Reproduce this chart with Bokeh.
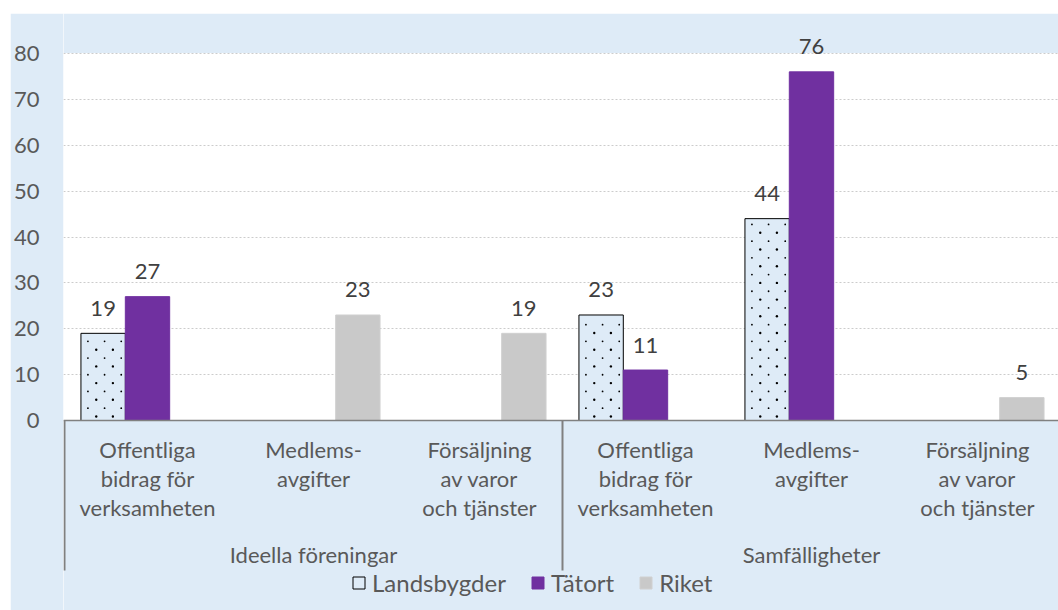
from bokeh.plotting import figure
from bokeh.models import (ColumnDataSource, Range1d, FixedTicker, Span, BoxAnnotation,
                          Legend, LegendItem, Spacer)
from bokeh.layouts import column, row
from bokeh.core.properties import value
from bokeh.embed import file_html
from bokeh.resources import INLINE

# ---------------- data ----------------
groups = ["Ideella föreningar", "Samfälligheter"]
subcategories = ["Offentliga\nbidrag för\nverksamheten", "Medlems-\navgifter",
                 "Försäljning\nav varor\noch tjänster"]
series_names = ["Landsbygder", "Tätort", "Riket"]
landsbygder = [19, None, None, 23, 44, None]
tatort = [27, None, None, 11, 76, None]
riket = [None, 23, 19, None, None, 5]
y_ticks = [0, 10, 20, 30, 40, 50, 60, 70, 80]

# ---------------- layout / style ----------------
BG = "#DEEBF7"
TXT = "#595959"
LBL = "#404040"
AX = "#808080"
FONT = "Lato"
FS = "22px"
FIG_W, FIG_H = 1048, 597
MIN_LEFT = 50
PX_PER_CAT = 166.5
PX_PER_UNIT = 367 / 80.0
TOP_GAP = 40          # px between figure top and the 80 gridline
Y_MAX = 80
BAR_PX = 44.5
DOT_DX, DOT_DY = 16.7, 8.35   # dotted fill pattern spacing (px)

def px(v):
    return v / PX_PER_UNIT

x_start = -1.0 / PX_PER_CAT
x_end = x_start + (FIG_W - MIN_LEFT) / PX_PER_CAT
y_end = Y_MAX + px(TOP_GAP)
y_start = y_end - px(FIG_H)
BAR_W = BAR_PX / PX_PER_CAT

n_sub = len(subcategories)
categories = [(g, s) for g in groups for s in subcategories]
centers = [i + 0.5 for i in range(len(categories))]

p = figure(width=FIG_W, height=FIG_H, output_backend="svg", toolbar_location=None,
           x_range=Range1d(x_start, x_end), y_range=Range1d(y_start, y_end),
           x_axis_location=None, min_border_left=MIN_LEFT, min_border_top=0,
           min_border_right=0, min_border_bottom=0)
p.background_fill_color = "white"
p.border_fill_color = BG
p.outline_line_color = None
p.xgrid.grid_line_color = None

p.yaxis.ticker = FixedTicker(ticks=y_ticks)
p.yaxis.axis_line_color = None
p.yaxis.major_tick_line_color = None
p.yaxis.minor_tick_line_color = None
p.yaxis.major_tick_out = 0
p.yaxis.major_tick_in = 0
p.yaxis.major_label_standoff = 24
p.yaxis.major_label_text_font = FONT
p.yaxis.major_label_text_font_size = FS
p.yaxis.major_label_text_color = TXT
p.ygrid.ticker = FixedTicker(ticks=y_ticks)
p.ygrid.grid_line_color = "#CCCCCC"
p.ygrid.grid_line_dash = "2 2"
p.ygrid.grid_line_width = 1

# light-blue areas outside the plotting area (above max, below the value axis)
p.add_layout(BoxAnnotation(top=0, fill_color=BG, fill_alpha=1, line_color=None, level="underlay"))
p.add_layout(BoxAnnotation(bottom=Y_MAX + px(0.5), fill_color=BG, fill_alpha=1,
                           line_color=None, level="underlay"))

styles = [
    dict(fill_color=BG, line_color="black", line_width=1),
    dict(fill_color="#7030A0", line_color="#7030A0", line_width=1),
    dict(fill_color="#C9C9C9", line_color="#D0D0D0", line_width=1),
]
items = []
for k, (name, vals) in enumerate(zip(series_names, [landsbygder, tatort, riket])):
    xs, tops, labels = [], [], []
    for i, v in enumerate(vals):
        if v is None:
            continue
        xs.append(centers[i] + (k - 1) * BAR_W)
        tops.append(v)
        labels.append(str(v))
    src = ColumnDataSource(dict(x=xs, top=tops, label=labels))
    r = p.vbar(x="x", top="top", bottom=0, width=BAR_W, source=src, **styles[k])
    if k == 0:
        # dotted fill pattern of the "Landsbygder" bars
        dx, dy, ds = [], [], []
        for cx, top in zip(xs, tops):
            left = cx - BAR_W / 2
            h_px = top * PX_PER_UNIT
            rr = 0
            yp = 4.0
            while yp < h_px - 2:
                xp = 7.0 + (DOT_DY if rr % 2 == 0 else 0.0)
                while xp < BAR_PX - 2:
                    dx.append(left + xp / PX_PER_CAT)
                    dy.append(px(yp))
                    ds.append(2.4 if rr % 2 == 0 else 1.8)
                    xp += DOT_DX
                yp += DOT_DY
                rr += 1
        dsrc = ColumnDataSource(dict(x=dx, y=dy, s=ds))
        p.scatter(x="x", y="y", size="s", source=dsrc, marker="circle",
                  fill_color="black", line_color=None)
    p.text(x="x", y="top", text="label", source=src, text_align="center",
           text_baseline="alphabetic", y_offset=-25, text_font=value(FONT),
           text_font_size=FS, text_color=LBL)
    items.append(LegendItem(label=name, renderers=[r]))

# value axis line
p.add_layout(Span(location=0, dimension="width", line_color=AX, line_width=1.5))

# category labels
lx, ly, lt = [], [], []
for i, (g, s) in enumerate(categories):
    for li, line in enumerate(s.split("\n")):
        lx.append(centers[i])
        ly.append(-px(29 + 29 * li))
        lt.append(line)
p.text(x=lx, y=ly, text=lt, text_align="center", text_baseline="alphabetic",
       text_font=value(FONT), text_font_size=FS, text_color=TXT)

gx = [gi * n_sub + n_sub / 2 for gi in range(len(groups))]
p.text(x=gx, y=[-px(134)] * len(groups), text=groups, text_align="center",
       text_baseline="alphabetic", text_font=value(FONT), text_font_size=FS, text_color=TXT)

# group separators
bx = [gi * n_sub for gi in range(len(groups) + 1)]
p.segment(x0=bx, x1=bx, y0=[0] * len(bx), y1=[-px(150)] * len(bx), line_color=AX, line_width=2)

legend = Legend(items=items, orientation="horizontal", location=(288, 13),
                border_line_color=None, background_fill_alpha=0,
                label_text_font=FONT, label_text_font_size="24px", label_text_color=TXT,
                glyph_width=15, glyph_height=15, spacing=24, label_standoff=6,
                padding=0, margin=0)
p.add_layout(legend)

layout = row(Spacer(width=10), column(Spacer(height=13), p))
open("out.html", "w").write(file_html(layout, INLINE))
